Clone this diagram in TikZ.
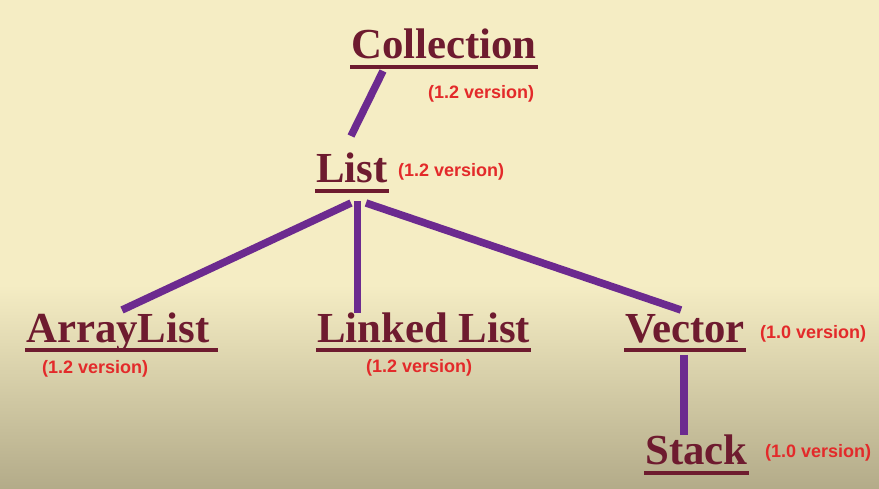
\documentclass[tikz,border=0pt]{standalone}
\usepackage{fontspec}
\setmainfont{Liberation Serif}
\newfontfamily\labelfont{Liberation Sans}
\usetikzlibrary{calc}
\definecolor{bgtop}{HTML}{F5EDC4}
\definecolor{bgbot}{HTML}{B3AB89}
\definecolor{maroon}{HTML}{6E1B2F}
\definecolor{vred}{HTML}{E32A2A}
\definecolor{purp}{HTML}{6C2A8F}
\begin{document}
\begin{tikzpicture}[x=1pt,y=-1pt,
  title/.style={anchor=base west, inner sep=0pt, font=\fontsize{42.8}{43}\selectfont\bfseries, text=maroon},
  ver/.style={anchor=west, inner sep=0pt, font=\labelfont\fontsize{18}{18}\selectfont\bfseries, text=vred},
  uline/.style={draw=maroon, line width=4pt},
  conn/.style={draw=purp, line width=7.5pt}]
\useasboundingbox (0,0) rectangle (879,489);
\fill[bgtop] (0,0) rectangle (879,286);
\shade[top color=bgtop, bottom color=bgbot] (0,285) rectangle (879,489);

% titles
\node[title] (coll) at (351,59) {Collection};
\node[title] (list) at (316,183) {List};
\node[title] (arr) at (26,342) {ArrayList};
\node[title] (lnk) at (317,342) {Linked List};
\node[title] (vec) at (625,342) {Vector};
\node[title] (stk) at (645,464) {Stack};

% version labels
\node[ver] (vcoll) at (428,94) {(1.2 version)};
\node[ver] (vlist) at (398,172) {(1.2 version)};
\node[ver] (varr) at (42,369) {(1.2 version)};
\node[ver] (vlnk) at (366,368) {(1.2 version)};
\node[ver] (vvec) at (760,334) {(1.0 version)};
\node[ver] (vstk) at (765,453) {(1.0 version)};

% underlines
\foreach \n/\e in {coll/1,list/1,arr/9,lnk/1,vec/1,stk/1}{
  \draw[uline] ($(\n.base west)+(-1,8.5)$) -- ($(\n.base east)+(\e,8.5)$);
}

% connectors
\draw[conn] ($(coll.base west)+(32,12)$) -- ($(list.base west)+(35,-47)$);
\draw[conn] ($(list.base west)+(35,20)$) -- ($(arr.base west)+(96,-32)$);
\draw[conn] ($(list.base west)+(41.5,18)$) -- ($(lnk.base west)+(40.5,-29)$);
\draw[conn] ($(list.base west)+(50,20)$) -- ($(vec.base west)+(56,-32)$);
\draw[conn] ($(vec.base west)+(59,13)$) -- ($(stk.base west)+(39,-29)$);
\end{tikzpicture}
\end{document}
